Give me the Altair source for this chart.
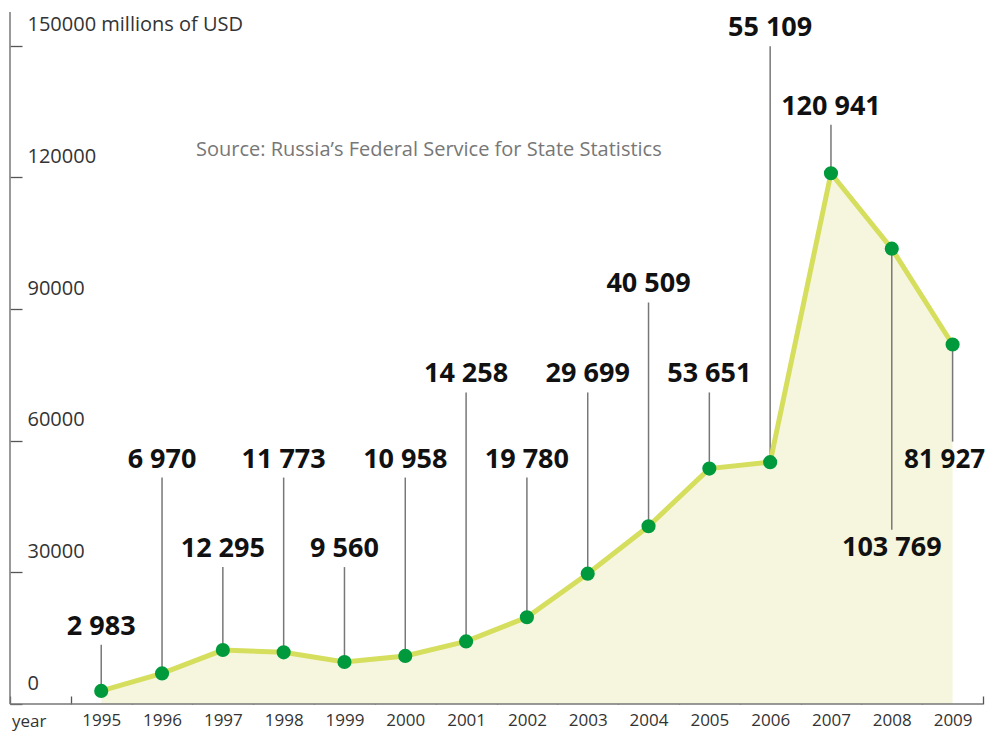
import altair as alt
import pandas as pd

# ---- data ----
years = [1995, 1996, 1997, 1998, 1999, 2000, 2001, 2002, 2003, 2004, 2005, 2006, 2007, 2008, 2009]
values = [2983, 6970, 12295, 11773, 9560, 10958, 14258, 19780, 29699, 40509, 53651, 55109, 120941, 103769, 81927]
# label anchor heights (in data units) for the annotation labels
label_level = [17600, 55700, 35300, 55700, 35300, 55700, 75100, 55700, 75100, 95600, 75100, 154000, 136100, 35600, 55700]
y_ticks = [0, 30000, 60000, 90000, 120000, 150000]

W, H = 973, 692
YMAX = 157700
GAP = 4100  # gap between label centre and leader end, in data units

x_domain = ["year"] + [str(y) for y in years]

rows = []
for yr, v, lv in zip(years, values, label_level):
    above = lv > v
    rows.append({
        "year": str(yr),
        "value": v,
        "label": f"{v:,}".replace(",", " "),
        "label_y": lv,
        "lead_end": lv - GAP if above else lv + GAP,
        "edge": yr == years[-1],
    })
df = pd.DataFrame(rows)

FONT = "Open Sans"

xscale = alt.Scale(domain=x_domain, type="band", paddingInner=0, paddingOuter=0)
yscale = alt.Scale(domain=[0, YMAX], nice=False, zero=True)

X = alt.X("year:N", scale=xscale, bandPosition=0.5,
          axis=alt.Axis(title=None, orient="bottom", offset=-8, tickSize=8, tickBand="extent",
                        domain=False, tickColor="#555", tickWidth=1.3,
                        labelFont=FONT, labelFontSize=17, labelColor="#333",
                        labelAngle=0, labelOverlap=False, labelLimit=0,
                        labelPadding=8, labelExpr="datum.value == 'year' ? '' : datum.label"))
Y = alt.Y("value:Q", scale=yscale,
          axis=alt.Axis(title=None, orient="left", offset=-12, tickSize=12, values=y_ticks,
                        domain=False, grid=False, tickColor="#555", tickWidth=1.3,
                        labelFont=FONT, labelFontSize=20, labelColor="#333",
                        labelAlign="left", labelBaseline="alphabetic", labelPadding=-17,
                        labelOffset=-15, labelLimit=0, labelOverlap=False,
                        labelExpr="datum.value + (datum.value == 150000 ? ' millions of USD' : '')"))

base = alt.Chart(df)

area = base.mark_area(color="#f6f6df", opacity=1).encode(x=X, y=Y)
leaders = base.mark_rule(color="#777777", strokeWidth=1.5).encode(
    x=alt.X("year:N", scale=xscale, bandPosition=0.5),
    y=alt.Y("value:Q", scale=yscale),
    y2="lead_end:Q",
)
line = base.mark_line(color="#d6de5e", strokeWidth=5).encode(
    x=alt.X("year:N", scale=xscale, bandPosition=0.5), y=alt.Y("value:Q", scale=yscale))
points = base.mark_point(filled=True, shape="circle", size=200, color="#009a3d", opacity=1).encode(
    x=alt.X("year:N", scale=xscale, bandPosition=0.5), y=alt.Y("value:Q", scale=yscale))

text_enc = dict(
    x=alt.X("year:N", scale=xscale, bandPosition=0.5),
    y=alt.Y("label_y:Q", scale=yscale),
    text="label:N",
)
texts = base.transform_filter("!datum.edge").mark_text(
    font=FONT, fontSize=27, fontWeight="bold", color="#111111",
    baseline="middle", align="center").encode(**text_enc)
texts_edge = base.transform_filter("datum.edge").mark_text(
    font=FONT, fontSize=26, fontWeight="bold", color="#111111",
    baseline="middle", align="center", dx=-8).encode(**text_enc)

ann = pd.DataFrame({"t": ["Source: Russia’s Federal Service for State Statistics"]})
source = alt.Chart(ann).mark_text(font=FONT, fontSize=20, color="#777777", align="left",
                                  baseline="middle").encode(
    x=alt.value(186), y=alt.value(138), text="t:N")

yearlab = alt.Chart(pd.DataFrame({"t": ["year"]})).mark_text(
    font=FONT, fontSize=17, color="#333", align="left", baseline="middle").encode(
    x=alt.value(2), y=alt.value(H + 18), text="t:N")

yaxis_line = alt.Chart(pd.DataFrame({"a": [0]})).mark_rule(color="#777", strokeWidth=1.5).encode(
    x=alt.value(0), y=alt.value(0), y2=alt.value(H))
xaxis_line = alt.Chart(pd.DataFrame({"a": [0]})).mark_rule(color="#777", strokeWidth=1.5).encode(
    x=alt.value(0), x2=alt.value(W), y=alt.value(H))

chart = alt.layer(area, leaders, line, points, texts, texts_edge, source, yearlab,
                  yaxis_line, xaxis_line).properties(
    width=W, height=H,
    background="white",
    autosize=alt.AutoSizeParams(type="none"),
    padding={"left": 2, "top": 4, "right": 4, "bottom": 28},
).configure_view(stroke=None)

chart.save("out.html", embed_options={"renderer": "svg", "actions": False})
